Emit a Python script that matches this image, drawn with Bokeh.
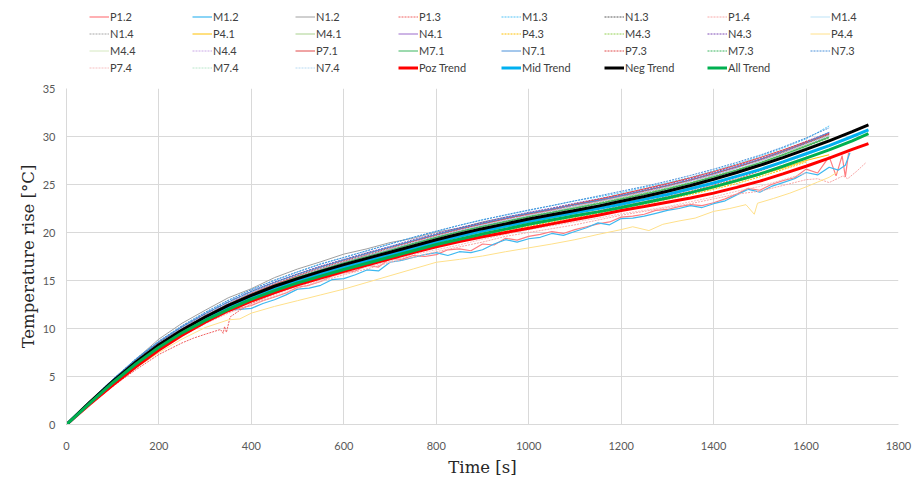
from bokeh.plotting import figure
from bokeh.models import Legend, LegendItem, FixedTicker, Range1d
from bokeh.layouts import column
from bokeh.embed import file_html
from bokeh.resources import INLINE

# ---------------- data ----------------
X_TICKS = [0, 200, 400, 600, 800, 1000, 1200, 1400, 1600, 1800]
Y_TICKS = [0, 5, 10, 15, 20, 25, 30, 35]

# common time grids [s]
T50 = list(range(0, 1651, 50))          # 0..1650 step 50
T25 = list(range(0, 1651, 25))          # 0..1650 step 25
T_TREND = list(range(0, 1701, 50)) + [1735]

P1_2_t = T25 + [1665, 1678, 1685, 1692]
P1_2 = [0, 1.1, 2.3, 3.4, 4.5, 5.5, 6.5, 7.5, 8.35, 9.1,
        9.8, 10.5, 11.15, 11.6, 12.0, 12.1, 12.4, 12.9, 13.3, 13.7,
        14.3, 14.5, 14.9, 15.5, 15.8, 16.0, 16.6, 16.4, 17.3, 17.2,
        17.6, 17.5, 17.7, 18.2, 18.3, 18.1, 18.8, 18.7, 19.4, 19.2,
        19.6, 19.8, 20.1, 19.9, 20.3, 20.6, 20.9, 21.1, 21.6, 21.7,
        21.9, 22.3, 22.4, 22.7, 22.9, 22.8, 23.1, 23.5, 24.0, 24.6,
        24.4, 25.0, 25.4, 25.7, 26.6, 26.2, 27.9, 25.9, 28.0, 25.8, 28.3]
M1_2_t = T25 + [1670, 1685, 1695]
M1_2 = [0, 1.15, 2.35, 3.5, 4.6, 5.65, 6.7, 7.7, 8.5, 9.3,
        10.0, 10.7, 11.3, 11.7, 11.9, 12.0, 12.1, 12.6, 13.0, 13.5,
        14.1, 14.2, 14.5, 15.1, 15.2, 15.6, 16.1, 16.0, 16.9, 17.1,
        17.4, 17.7, 17.9, 17.6, 18.0, 17.9, 18.2, 18.8, 19.25, 19.0,
        19.35, 19.5, 19.9, 19.7, 20.1, 20.5, 21.0, 20.8, 21.45, 21.5,
        21.7, 22.0, 22.3, 22.5, 22.8, 22.6, 23.0, 23.3, 23.9, 24.5,
        24.2, 24.8, 25.2, 25.6, 26.25, 26.0, 26.8, 26.5, 27.0, 28.3]
N1_2 = [0, 2.35, 4.6, 6.8, 8.9, 10.55, 11.9, 13.2, 14.15, 15.3, 16.2, 16.95, 17.75, 18.3, 18.95, 19.4, 20.05,
        20.45, 21.1, 21.6, 22.0, 22.35, 22.9, 23.25, 23.75, 24.15, 24.8, 25.4, 25.95, 26.75, 27.6, 28.3, 29.35, 30.15]
P1_3_t = [0, 25, 50, 75, 100, 125, 150, 175, 200, 225, 250, 275, 300, 320, 333, 339, 342, 346, 354, 375,
          400, 450, 500, 550, 600, 650, 700, 750, 800, 850, 900, 950, 1000, 1050, 1100, 1150, 1200, 1250,
          1300, 1350, 1400, 1450, 1500, 1550, 1600, 1650]
P1_3 = [0, 1.0, 2.0, 3.0, 3.95, 4.85, 5.7, 6.5, 7.3, 7.9, 8.5, 9.0, 9.4, 9.7, 9.9, 9.5, 10.2, 9.6, 11.2, 11.9,
        12.6, 13.6, 14.5, 15.3, 16.0, 16.7, 17.4, 18.1, 18.7, 19.3, 19.85, 20.35, 20.85, 21.3, 21.8, 22.25,
        22.75, 23.2, 23.75, 24.3, 24.95, 25.6, 26.4, 27.25, 28.1, 29.0]
M1_3 = [0, 2.4, 4.7, 6.8, 8.65, 10.25, 11.65, 12.9, 14.05, 15.0, 15.9, 16.75, 17.4, 18.1, 18.8, 19.5, 20.1,
        20.75, 21.35, 21.8, 22.3, 22.8, 23.3, 23.7, 24.15, 24.7, 25.2, 25.75, 26.45, 27.15, 27.95, 28.8, 29.75, 31.1]
N1_3 = [0, 2.3, 4.6, 6.7, 8.55, 10.15, 11.5, 12.75, 13.85, 14.8, 15.65, 16.45, 17.15, 17.85, 18.45, 19.1, 19.8,
        20.45, 21.0, 21.45, 22.0, 22.45, 22.95, 23.35, 23.85, 24.4, 24.9, 25.45, 26.15, 26.8, 27.5, 28.35, 29.25, 30.25]
P1_4_t = list(range(0, 1601, 50)) + [1625, 1650, 1680, 1690, 1710, 1730]
P1_4 = [0, 2.1, 4.1, 6.0, 7.8, 9.2, 10.5, 11.6, 12.5, 13.3, 14.2, 14.9, 15.6, 16.2, 16.9, 17.4, 18.0, 18.5,
        19.0, 19.6, 20.0, 20.4, 20.8, 21.3, 21.8, 22.2, 22.6, 23.0, 23.5, 24.0, 24.3, 24.9, 25.5,
        25.6, 25.2, 25.9, 25.6, 26.4, 27.3]
M1_4 = [0, 2.3, 4.55, 6.6, 8.45, 10.0, 11.4, 12.6, 13.7, 14.6, 15.5, 16.2, 16.95, 17.6, 18.2, 18.9, 19.5,
        20.15, 20.7, 21.2, 21.7, 22.1, 22.6, 23.05, 23.5, 24.05, 24.6, 25.2, 25.85, 26.55, 27.3, 28.1, 29.0, 29.9]
N1_4 = [0, 2.35, 4.6, 6.65, 8.5, 10.1, 11.45, 12.7, 13.75, 14.75, 15.55, 16.3, 17.05, 17.7, 18.35, 19.0, 19.6,
        20.25, 20.8, 21.3, 21.8, 22.3, 22.7, 23.2, 23.65, 24.2, 24.75, 25.35, 26.0, 26.7, 27.45, 28.25, 29.1, 30.0]
P4_1 = [0, 2.15, 4.2, 6.15, 7.95, 9.55, 10.95, 12.15, 13.15, 14.05, 14.85, 15.55, 16.25, 16.9, 17.55, 18.2, 18.8,
        19.35, 19.85, 20.35, 20.8, 21.25, 21.7, 22.15, 22.65, 23.1, 23.6, 24.1, 24.65, 25.3, 26.0, 26.7, 27.5, 28.1]
M4_1 = [0, 2.25, 4.45, 6.45, 8.25, 9.8, 11.15, 12.4, 13.45, 14.45, 15.3, 16.05, 16.8, 17.45, 18.1, 18.8, 19.45,
        20.05, 20.6, 21.1, 21.65, 22.1, 22.55, 23.0, 23.5, 24.0, 24.55, 25.15, 25.8, 26.5, 27.25, 28.1, 29.0, 29.85]
N4_1 = [0, 2.3, 4.55, 6.6, 8.4, 10.0, 11.35, 12.6, 13.7, 14.7, 15.55, 16.35, 17.05, 17.7, 18.4, 19.1, 19.75,
        20.35, 20.9, 21.45, 21.95, 22.4, 22.9, 23.35, 23.85, 24.35, 24.9, 25.45, 26.1, 26.8, 27.6, 28.45, 29.4, 30.35]
P4_3 = [0, 2.1, 4.1, 6.05, 7.85, 9.4, 10.75, 11.95, 12.95, 13.9, 14.7, 15.45, 16.15, 16.8, 17.45, 18.05, 18.65,
        19.2, 19.7, 20.2, 20.65, 21.1, 21.55, 22.0, 22.5, 22.95, 23.45, 23.95, 24.5, 25.1, 25.8, 26.55, 27.35]
M4_3 = [0, 2.3, 4.5, 6.5, 8.3, 9.9, 11.3, 12.5, 13.6, 14.55, 15.4, 16.15, 16.9, 17.55, 18.25, 18.9, 19.6,
        20.15, 20.7, 21.2, 21.7, 22.2, 22.65, 23.1, 23.6, 24.1, 24.65, 25.2, 25.85, 26.55, 27.3, 28.15, 29.1, 30.1]
N4_3 = [0, 2.35, 4.6, 6.65, 8.5, 10.1, 11.5, 12.75, 13.9, 14.85, 15.7, 16.5, 17.2, 17.9, 18.55, 19.25, 19.9,
        20.5, 21.05, 21.6, 22.1, 22.55, 23.05, 23.5, 23.95, 24.5, 25.05, 25.6, 26.25, 26.95, 27.7, 28.55, 29.5, 30.4]
P4_4_t = [0, 50, 100, 150, 200, 250, 300, 350, 375, 400, 450, 500, 550, 600, 650, 700, 750, 800, 850, 900,
          950, 1000, 1050, 1100, 1150, 1200, 1225, 1260, 1290, 1325, 1360, 1400, 1435, 1470, 1488, 1495,
          1530, 1565, 1600, 1625, 1650, 1668]
P4_4 = [0, 2.1, 4.1, 5.9, 7.5, 8.9, 10.1, 10.9, 11.0, 11.6, 12.3, 12.9, 13.5, 14.1, 14.8, 15.5, 16.2, 16.9,
        17.2, 17.55, 18.0, 18.4, 18.8, 19.25, 19.8, 20.3, 20.6, 20.2, 20.85, 21.2, 21.5, 22.2, 22.5, 22.9,
        21.9, 23.05, 23.55, 24.1, 24.75, 25.25, 25.75, 26.3]
M4_4 = [0, 2.25, 4.4, 6.4, 8.2, 9.75, 11.1, 12.3, 13.35, 14.3, 15.15, 15.9, 16.6, 17.3, 17.95, 18.6, 19.25,
        19.85, 20.4, 20.95, 21.45, 21.9, 22.35, 22.8, 23.3, 23.8, 24.35, 24.95, 25.6, 26.3, 27.1, 27.95, 28.85, 29.7]
N4_4 = [0, 2.3, 4.5, 6.55, 8.35, 9.95, 11.3, 12.5, 13.6, 14.55, 15.4, 16.2, 16.9, 17.55, 18.25, 18.95, 19.6,
        20.2, 20.75, 21.3, 21.8, 22.25, 22.7, 23.2, 23.7, 24.2, 24.75, 25.35, 26.0, 26.7, 27.45, 28.3, 29.2, 30.1]
P7_1 = [0, 2.25, 4.45, 6.45, 8.25, 9.8, 11.2, 12.45, 13.6, 14.6, 15.5, 16.3, 17.0, 17.7, 18.4, 19.05, 19.7,
        20.3, 20.9, 21.45, 21.95, 22.45, 22.95, 23.45, 24.0, 24.55, 25.1, 25.7, 26.35, 27.05, 27.8, 28.6, 29.45, 30.3]
M7_1 = [0, 2.3, 4.5, 6.5, 8.35, 9.9, 11.25, 12.45, 13.55, 14.5, 15.35, 16.1, 16.85, 17.5, 18.15, 18.85, 19.5,
        20.1, 20.65, 21.15, 21.65, 22.1, 22.55, 23.0, 23.5, 24.0, 24.55, 25.15, 25.8, 26.5, 27.25, 28.1, 29.0, 29.95]
N7_1 = [0, 2.4, 4.7, 6.8, 8.65, 10.2, 11.55, 12.75, 13.85, 14.8, 15.65, 16.4, 17.15, 17.8, 18.5, 19.15, 19.8,
        20.4, 20.95, 21.5, 22.0, 22.45, 22.9, 23.35, 23.85, 24.35, 24.9, 25.5, 26.15, 26.85, 27.6, 28.45, 29.35, 30.45]
P7_3 = [0, 2.3, 4.5, 6.55, 8.4, 10.0, 11.4, 12.6, 13.7, 14.7, 15.55, 16.3, 17.05, 17.7, 18.35, 19.05, 19.7,
        20.3, 20.85, 21.35, 21.85, 22.3, 22.8, 23.25, 23.75, 24.3, 24.85, 25.45, 26.1, 26.8, 27.55, 28.4, 29.3, 30.2]
M7_3 = [0, 2.3, 4.5, 6.5, 8.3, 9.85, 11.2, 12.4, 13.5, 14.45, 15.3, 16.05, 16.75, 17.45, 18.1, 18.8, 19.45,
        20.05, 20.6, 21.1, 21.6, 22.05, 22.5, 22.95, 23.45, 23.95, 24.5, 25.1, 25.75, 26.45, 27.2, 28.05, 28.95, 29.9]
N7_3 = [0, 2.4, 4.7, 6.85, 8.7, 10.3, 11.7, 12.95, 14.05, 15.05, 15.9, 16.7, 17.4, 18.1, 18.8, 19.5, 20.15,
        20.75, 21.3, 21.85, 22.35, 22.8, 23.3, 23.8, 24.3, 24.8, 25.35, 25.95, 26.6, 27.3, 28.05, 28.9, 29.85, 30.9]
P7_4 = [0, 2.2, 4.2, 6.1, 7.9, 9.4, 10.7, 11.8, 12.7, 13.5, 14.4, 15.0, 15.8, 16.4, 17.0, 17.7, 18.2, 18.7,
        19.3, 19.8, 20.3, 20.7, 21.1, 21.5, 21.95, 22.3, 22.7, 23.2, 23.7, 24.3, 24.8, 25.5, 26.2]
M7_4 = [0, 2.25, 4.45, 6.45, 8.25, 9.8, 11.15, 12.35, 13.45, 14.4, 15.25, 16.0, 16.7, 17.4, 18.05, 18.7, 19.35,
        19.95, 20.5, 21.0, 21.5, 21.95, 22.4, 22.85, 23.35, 23.85, 24.4, 25.0, 25.65, 26.35, 27.1, 27.9, 28.8, 29.7]
N7_4 = [0, 2.3, 4.55, 6.6, 8.45, 10.05, 11.4, 12.65, 13.75, 14.7, 15.55, 16.3, 17.0, 17.7, 18.35, 19.0, 19.65,
        20.25, 20.8, 21.3, 21.8, 22.25, 22.75, 23.2, 23.7, 24.2, 24.75, 25.35, 26.0, 26.7, 27.45, 28.3, 29.2, 30.15]

POZ_TREND = [0, 2.1, 4.1, 6.0, 7.75, 9.3, 10.65, 11.85, 12.85, 13.75, 14.55, 15.25, 15.95, 16.6, 17.25, 17.9,
             18.5, 19.05, 19.55, 20.0, 20.45, 20.9, 21.35, 21.8, 22.3, 22.7, 23.15, 23.6, 24.1, 24.7, 25.35,
             26.1, 26.9, 27.75, 28.65, 29.25]
MID_TREND = [0, 2.25, 4.4, 6.4, 8.15, 9.7, 11.0, 12.2, 13.25, 14.2, 14.95, 15.7, 16.4, 17.05, 17.7, 18.35,
             19.0, 19.6, 20.15, 20.65, 21.15, 21.6, 22.05, 22.5, 22.95, 23.45, 23.95, 24.55, 25.15, 25.85,
             26.55, 27.35, 28.2, 29.05, 30.0, 30.7]
NEG_TREND = [0, 2.3, 4.5, 6.5, 8.3, 9.85, 11.2, 12.4, 13.45, 14.4, 15.2, 15.95, 16.65, 17.3, 17.95, 18.6,
             19.25, 19.85, 20.4, 20.9, 21.4, 21.85, 22.3, 22.75, 23.25, 23.75, 24.3, 24.9, 25.55, 26.25,
             27.0, 27.8, 28.65, 29.55, 30.5, 31.2]
ALL_TREND = [0, 2.2, 4.35, 6.3, 8.05, 9.55, 10.85, 12.0, 13.05, 13.95, 14.75, 15.45, 16.15, 16.8, 17.45, 18.1,
             18.75, 19.3, 19.85, 20.35, 20.85, 21.3, 21.75, 22.15, 22.6, 23.1, 23.6, 24.15, 24.75, 25.4,
             26.1, 26.9, 27.75, 28.6, 29.55, 30.3]

# (label, times, values, colour, dash, width)
SERIES = [
    ("P1.2", P1_2_t, P1_2, "#FF7C80", "solid", 1.2),
    ("M1.2", M1_2_t, M1_2, "#3DB8F0", "solid", 1.2),
    ("N1.2", T50, N1_2, "#A0A0A0", "solid", 1),
    ("P1.3", P1_3_t, P1_3, "#F06060", "2 1", 1),
    ("M1.3", T50, M1_3, "#4FC3F7", "2 1", 1),
    ("N1.3", T50, N1_3, "#595959", "2 1", 1),
    ("P1.4", P1_4_t, P1_4, "#F8A8A8", "2 1", 1),
    ("M1.4", T50, M1_4, "#BDE3F7", "solid", 1),
    ("N1.4", T50, N1_4, "#A6A6A6", "2 1", 1),
    ("P4.1", T50, P4_1, "#FFC000", "solid", 1),
    ("M4.1", T50, M4_1, "#A9D18E", "solid", 1),
    ("N4.1", T50, N4_1, "#9B6BCB", "solid", 1),
    ("P4.3", T50, P4_3, "#FFC000", "2 1", 1),
    ("M4.3", T50, M4_3, "#92D050", "2 1", 1),
    ("N4.3", T50, N4_3, "#7E4AB5", "2 1", 1),
    ("P4.4", P4_4_t, P4_4, "#FFE08A", "solid", 1),
    ("M4.4", T50, M4_4, "#D5E8C0", "solid", 1),
    ("N4.4", T50, N4_4, "#C9A8E6", "2 1", 1),
    ("P7.1", T50, P7_1, "#E04848", "solid", 1),
    ("M7.1", T50, M7_1, "#3BB55E", "solid", 1),
    ("N7.1", T50, N7_1, "#4A90D9", "solid", 1),
    ("P7.3", T50, P7_3, "#E04848", "2 1", 1),
    ("M7.3", T50, M7_3, "#3BB55E", "2 1", 1),
    ("N7.3", T50, N7_3, "#4A90D9", "2 1", 1),
    ("P7.4", T50, P7_4, "#F6BFC0", "2 1", 1),
    ("M7.4", T50, M7_4, "#B8E6CA", "2 1", 1),
    ("N7.4", T50, N7_4, "#B7D9F2", "2 1", 1),
    ("Poz Trend", T_TREND, POZ_TREND, "#FF0000", "solid", 3),
    ("Mid Trend", T_TREND, MID_TREND, "#00B0F0", "solid", 3),
    ("Neg Trend", T_TREND, NEG_TREND, "#000000", "solid", 3),
    ("All Trend", T_TREND, ALL_TREND, "#00B050", "solid", 3),
]

# ---------------- main chart ----------------
p = figure(width=920, height=399, output_backend="svg", toolbar_location=None,
           x_range=Range1d(0, 1800), y_range=Range1d(0, 35),
           min_border_left=66, min_border_right=22, min_border_top=8, min_border_bottom=49)
p.outline_line_color = None
p.background_fill_color = "white"
p.border_fill_color = "white"

for g in (p.xgrid[0], p.ygrid[0]):
    g.grid_line_color = "#D9D9D9"
    g.grid_line_width = 1
p.xaxis.ticker = FixedTicker(ticks=X_TICKS)
p.yaxis.ticker = FixedTicker(ticks=Y_TICKS)
p.xgrid.ticker = FixedTicker(ticks=X_TICKS)
p.ygrid.ticker = FixedTicker(ticks=Y_TICKS)

for ax in (p.xaxis[0], p.yaxis[0]):
    ax.axis_line_color = "#D9D9D9"
    ax.major_tick_line_color = None
    ax.minor_tick_line_color = None
    ax.major_label_text_font = "Lato"
    ax.major_label_text_font_size = "11px"
    ax.major_label_text_color = "#595959"
    ax.axis_label_text_font = "DejaVu Serif"
    ax.axis_label_text_font_size = "16.5px"
    ax.axis_label_text_font_style = "normal"
    ax.axis_label_text_color = "#262626"

p.xaxis.axis_label = "Time [s]"
p.yaxis.axis_label = "Temperature rise [°C]"
p.xaxis.major_label_standoff = 11
p.yaxis.major_label_standoff = 5
p.xaxis.axis_label_standoff = 5
p.yaxis.axis_label_standoff = 2

# ---------------- legend strip (series drawn off-range, only legend visible) ----------------
lg = figure(width=920, height=80, output_backend="svg", toolbar_location=None,
            x_range=Range1d(-2, -1), y_range=Range1d(-2, -1),
            x_axis_location=None, y_axis_location=None,
            min_border_left=0, min_border_right=0, min_border_top=0, min_border_bottom=0)
lg.grid.visible = False
lg.outline_line_color = None
lg.background_fill_color = "white"
lg.border_fill_color = "white"

items = []
for name, tt, vv, col, dash, w in SERIES:
    n = min(len(tt), len(vv))
    p.line(tt[:n], vv[:n], line_color=col, line_width=w, line_dash=dash)
    r = lg.line(tt[:n], vv[:n], line_color=col, line_width=w, line_dash=dash)
    items.append(LegendItem(label=name, renderers=[r]))

legend = Legend(items=items, orientation="horizontal", ncols=8,
                location=(23, 4), padding=0, margin=0, spacing=0,
                glyph_width=20, glyph_height=17, label_height=17, label_width=82,
                label_standoff=1, label_text_font="Lato", label_text_font_size="11px",
                label_text_color="#404040", border_line_color=None,
                background_fill_alpha=0)
lg.add_layout(legend, "center")

layout = column(lg, p, spacing=0)
open("out.html", "w").write(file_html(layout, INLINE))
